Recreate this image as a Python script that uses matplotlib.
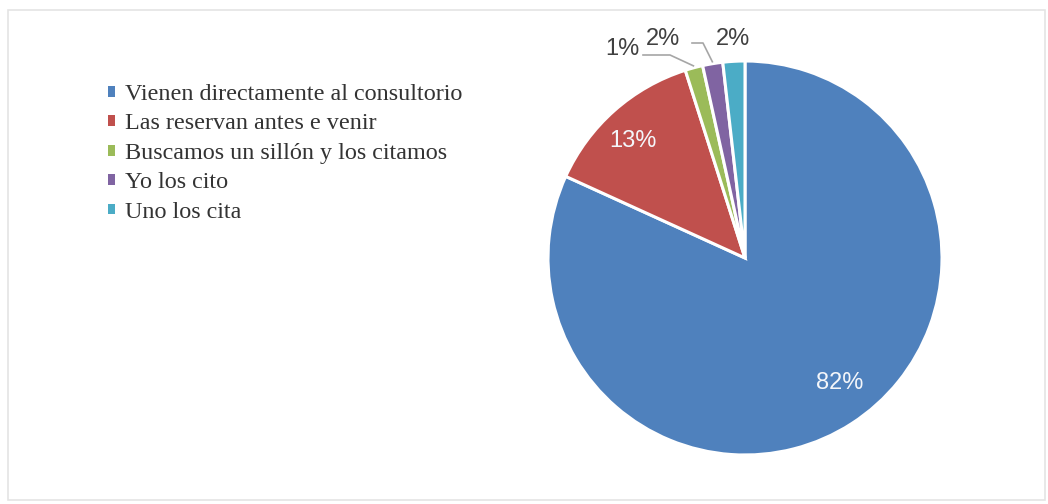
import numpy as np
import matplotlib.pyplot as plt
from matplotlib.patches import Rectangle

categorias = ["Vienen directamente al consultorio",
              "Las reservan antes e venir",
              "Buscamos un sillón y los citamos",
              "Yo los cito",
              "Uno los cita"]
porcentajes = [81.8, 13.3, 1.45, 1.65, 1.8]
colores = ["#4F81BD", "#C0504D", "#9BBB59", "#8064A2", "#4BACC6"]

W, H = 1048, 504
fig = plt.figure(figsize=(W / 100, H / 100), dpi=100)

# marco gris claro alrededor del gráfico
fig.patches.append(Rectangle((8 / W, 4 / H), 1037 / W, 490 / H, transform=fig.transFigure,
                             fill=False, edgecolor="#E4E4E4", linewidth=1.2))

# eje cuadrado centrado en el pastel
cx, cy, r = 745, 258, 197
ax = fig.add_axes([(cx - r) / W, (H - cy - r) / H, 2 * r / W, 2 * r / H])
ax.set_axis_off()

wedges, _ = ax.pie(porcentajes, colors=colores, startangle=90, counterclock=False,
                   radius=1, wedgeprops=dict(edgecolor="white", linewidth=2.2))
ax.set_xlim(-1, 1)
ax.set_ylim(-1, 1)


def angulo_medio(w):
    return np.deg2rad((w.theta1 + w.theta2) / 2)


def px(dx, dy):
    # desplazamiento en píxeles respecto al centro -> unidades del eje
    return dx / r, -dy / r


fuente = ["Liberation Sans", "DejaVu Sans"]

# etiquetas interiores
for i, (dx, dy) in ((0, (95, 125)), (1, (-112, -117))):
    x, y = px(dx, dy)
    ax.text(x, y, f"{porcentajes[i]:.0f}%", ha="center", va="center",
            color="#F4F6FA", fontsize=17, family=fuente)

# etiquetas exteriores con líneas guía (posiciones en píxeles relativas al centro)
ext = {2: (-123, -209), 3: (-82, -219), 4: (-12, -219)}
guias = {2: [(-102, -203), (-75, -203)], 3: [(-53, -215), (-42, -215)]}
for i, (dx, dy) in ext.items():
    x, y = px(dx, dy)
    ax.text(x, y, f"{porcentajes[i]:.0f}%", ha="center", va="center",
            color="#404040", fontsize=17, family=fuente, clip_on=False)
    if i in guias:
        a = angulo_medio(wedges[i])
        pts = [px(*p) for p in guias[i]] + [(np.cos(a) * 1.01, np.sin(a) * 1.01)]
        xs, ys = zip(*pts)
        ax.plot(xs, ys, color="#A6A6A6", linewidth=1.2, clip_on=False)

# leyenda con cuadritos sin borde
marcas = [Rectangle((0, 0), 1, 1, facecolor=c, edgecolor="none") for c in colores]
fig.legend(marcas, categorias, loc="upper left", bbox_to_anchor=(108 / W, 1 - 84 / H),
           frameon=False, borderpad=0, borderaxespad=0, handlelength=0.3,
           handleheight=0.3, handletextpad=0.4, labelspacing=0.35,
           prop=dict(family="Liberation Serif", size=17.4), labelcolor="#333333")

fig.savefig("out.png", dpi=100, facecolor="white")
